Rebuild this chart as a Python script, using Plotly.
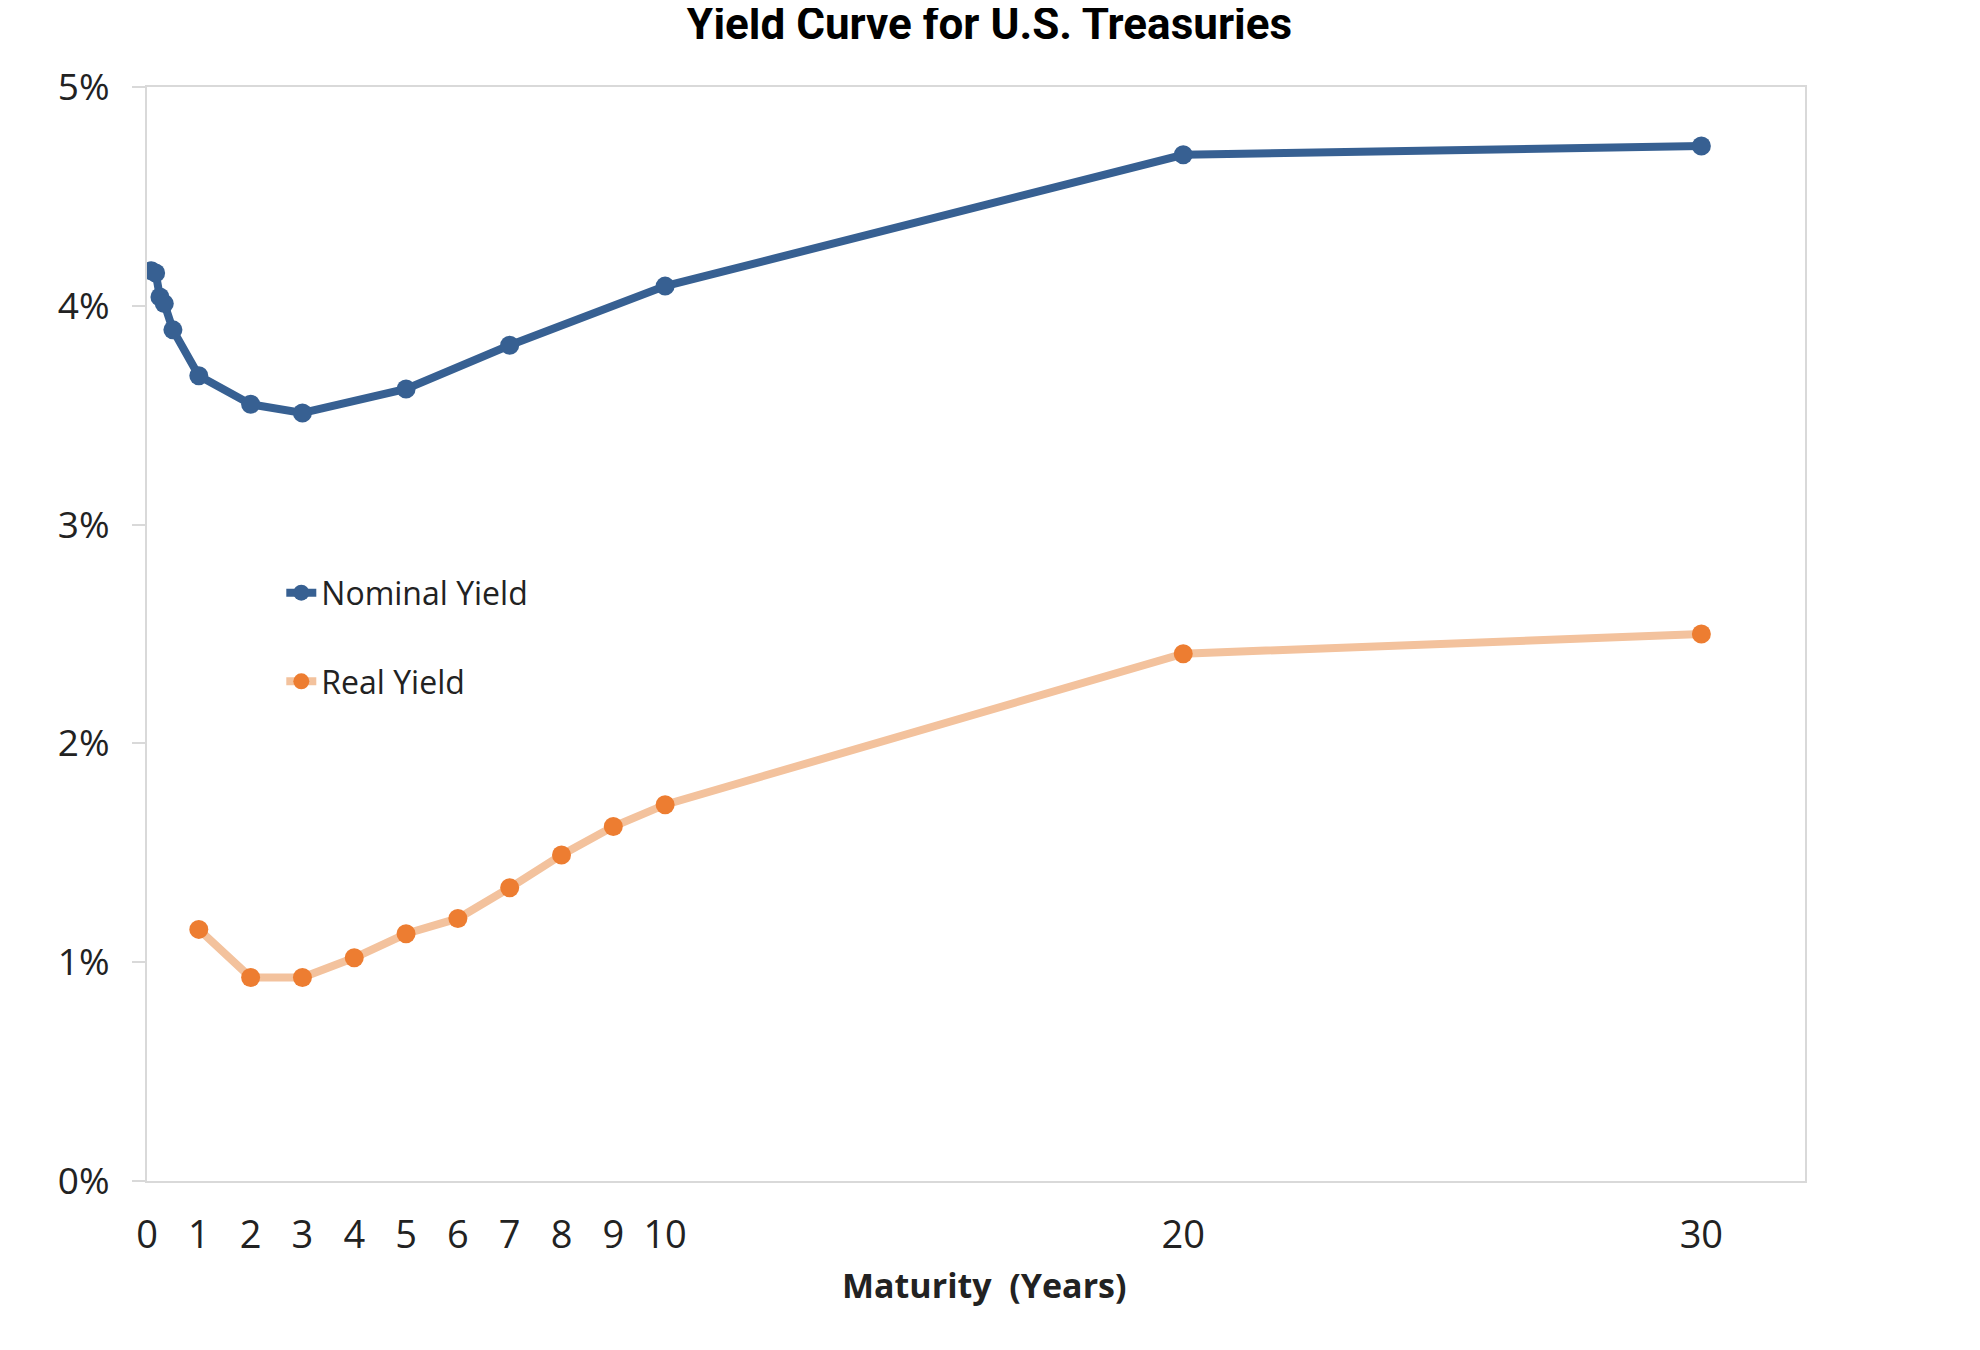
import plotly.graph_objects as go

# maturities in years (bills as fractions of a year)
nominal_maturity = [1/12, 2/12, 3/12, 4/12, 6/12, 1, 2, 3, 5, 7, 10, 20, 30]
nominal_yield = [4.16, 4.15, 4.04, 4.01, 3.89, 3.68, 3.55, 3.51, 3.62, 3.82, 4.09, 4.69, 4.73]

real_maturity = [1, 2, 3, 4, 5, 6, 7, 8, 9, 10, 20, 30]
real_yield = [1.15, 0.93, 0.93, 1.02, 1.13, 1.20, 1.34, 1.49, 1.62, 1.72, 2.41, 2.50]

x_ticks = [0, 1, 2, 3, 4, 5, 6, 7, 8, 9, 10, 20, 30]
y_ticks = [0, 1, 2, 3, 4, 5]
y_tick_labels = ["0%", "1%", "2%", "3%", "4%", "5%"]

blue = "#376092"
orange = "#ED7D31"
orange_light = "#F3C29D"
axis_grey = "#D9D9D9"
text_col = "#222222"

fig = go.Figure()
fig.add_trace(go.Scatter(
    x=nominal_maturity, y=nominal_yield, name="Nominal Yield",
    mode="lines+markers", legendgroup="a",
    line=dict(color=blue, width=8),
    marker=dict(color=blue, size=19),
))
fig.add_trace(go.Scatter(
    x=real_maturity, y=real_yield, name="Real Yield",
    mode="lines+markers", legendgroup="b",
    line=dict(color=orange_light, width=8),
    marker=dict(color=orange, size=19),
))

# page body adds ~8px offset, so margins are shifted to compensate
fig.update_layout(
    width=1980, height=1350,
    margin=dict(l=139, r=183, t=79, b=177),
    paper_bgcolor="white", plot_bgcolor="white",
    font=dict(family="Open Sans", color=text_col),
    title=dict(
        text="<b>Yield Curve for U.S. Treasuries</b>",
        font=dict(family="Roboto", size=44, color="black"),
        xref="container", x=0.4955, xanchor="center",
        yref="container", y=1.0, yanchor="top",
        pad=dict(t=0, b=0),
    ),
    legend=dict(
        x=0.081, y=0.5627, xanchor="left", yanchor="top",
        font=dict(family="Open Sans", size=32, color=text_col),
        bgcolor="rgba(0,0,0,0)", tracegroupgap=44,
        traceorder="grouped",
    ),
    xaxis=dict(
        range=[0, 32], tickvals=x_ticks, ticks="",
        showgrid=False, zeroline=False,
        showline=True, linecolor=axis_grey, linewidth=2, mirror=True,
        tickfont=dict(size=38, color=text_col), ticklabelstandoff=19,
    ),
    yaxis=dict(
        range=[0, 5], tickvals=y_ticks, ticktext=y_tick_labels,
        ticks="outside", ticklen=13, tickcolor=axis_grey, tickwidth=2,
        showgrid=False, zeroline=False,
        showline=True, linecolor=axis_grey, linewidth=2, mirror=True,
        tickfont=dict(size=37, color=text_col), ticklabelstandoff=15,
    ),
    annotations=[dict(
        text="<b>Maturity\u00a0 (Years)</b>",
        xref="paper", yref="paper", x=0.5049, y=-0.0951,
        xanchor="center", yanchor="middle", showarrow=False,
        font=dict(family="Open Sans", size=34, color=text_col),
    )],
    showlegend=True,
)

fig.write_html("out.html")
